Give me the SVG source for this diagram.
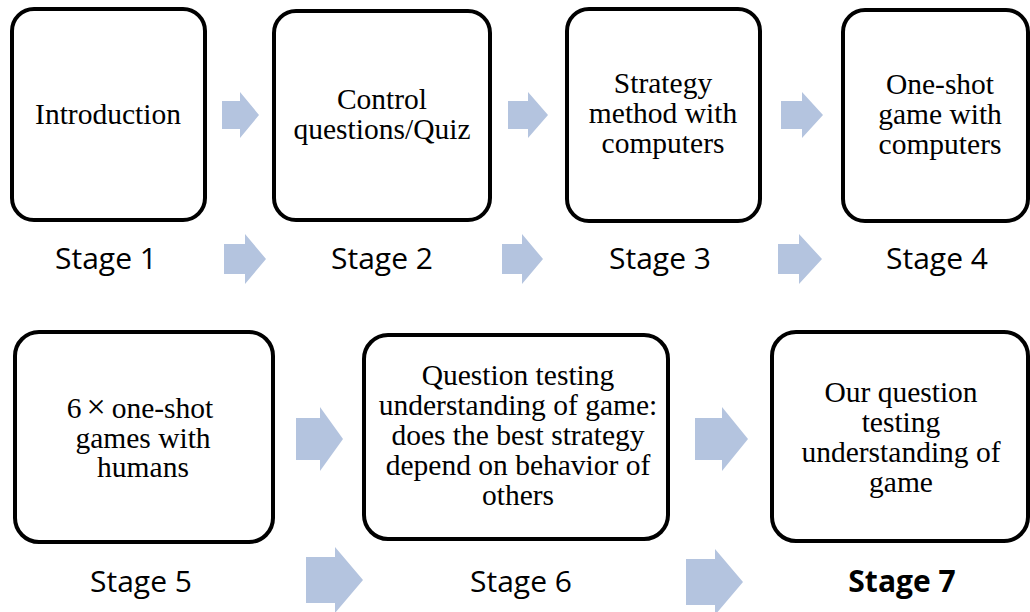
<svg xmlns="http://www.w3.org/2000/svg" width="1030" height="612" viewBox="0 0 1030 612">
<style>
.box{fill:#fff;stroke:#000;stroke-width:4}
.t{font-family:"Liberation Serif","Times New Roman",serif;font-size:29.5px;fill:#000;text-anchor:middle}
.s{font-family:"Open Sans","Liberation Sans",sans-serif;font-size:30px;fill:#000;text-anchor:middle}
.b{font-weight:bold}
.arr{fill:#B4C4DF}
</style>
<rect width="1030" height="612" fill="#fff"/>
<g id="connectors">
<polygon class="arr" points="222,101 240,101 240,92 259,115 240,138 240,129 222,129"/>
<polygon class="arr" points="224,244 245,244 245,234 266,259 245,284 245,274 224,274"/>
<polygon class="arr" points="508,101 528,101 528,92 548,115 528,138 528,129 508,129"/>
<polygon class="arr" points="502,244 522,244 522,234 543,259 522,284 522,274 502,274"/>
<polygon class="arr" points="781,101 802,101 802,92 823,115 802,138 802,129 781,129"/>
<polygon class="arr" points="778,244 799,244 799,234 822,259 799,284 799,274 778,274"/>
<polygon class="arr" points="296,418 320,418 320,407 343,439 320,471 320,460 296,460"/>
<polygon class="arr" points="306,557 335,557 335,547 363,580 335,613 335,603 306,603"/>
<polygon class="arr" points="695,418 722,418 722,407 748,439 722,471 722,460 695,460"/>
<polygon class="arr" points="686,559 715,559 715,549 743,582 715,615 715,605 686,605"/>
</g>
<g id="stage1">
<rect class="box" x="12" y="9" width="193" height="211" rx="22"/>
<text class="t" x="108" y="124">Introduction</text>
<text class="s" x="106" y="269">Stage 1</text>
</g>
<g id="stage2">
<rect class="box" x="274" y="11" width="216" height="209" rx="22"/>
<text class="t" x="382" y="109">Control</text>
<text class="t" x="382" y="139">questions/Quiz</text>
<text class="s" x="382" y="269">Stage 2</text>
</g>
<g id="stage3">
<rect class="box" x="567" y="9" width="193" height="212" rx="22"/>
<text class="t" x="663" y="93">Strategy</text>
<text class="t" x="663" y="123">method with</text>
<text class="t" x="663" y="153">computers</text>
<text class="s" x="660" y="269">Stage 3</text>
</g>
<g id="stage4">
<rect class="box" x="843" y="10" width="185" height="211" rx="22"/>
<text class="t" x="940" y="94">One-shot</text>
<text class="t" x="940" y="124">game with</text>
<text class="t" x="940" y="154">computers</text>
<text class="s" x="937" y="269">Stage 4</text>
</g>
<g id="stage5">
<rect class="box" x="15" y="332" width="258" height="210" rx="24"/>
<text class="t" x="140" y="418">6<tspan dx="5" font-size="34">×</tspan><tspan dx="6">one-shot</tspan></text>
<text class="t" x="143" y="448">games with</text>
<text class="t" x="143" y="477">humans</text>
<text class="s" x="141" y="592">Stage 5</text>
</g>
<g id="stage6">
<rect class="box" x="364" y="335" width="304" height="204" rx="24"/>
<text class="t" x="518" y="385">Question testing</text>
<text class="t" x="518" y="415">understanding of game:</text>
<text class="t" x="518" y="445">does the best strategy</text>
<text class="t" x="518" y="475">depend on behavior of</text>
<text class="t" x="518" y="505">others</text>
<text class="s" x="521" y="592">Stage 6</text>
</g>
<g id="stage7">
<rect class="box" x="772" y="332" width="256" height="209" rx="24"/>
<text class="t" x="901" y="402">Our question</text>
<text class="t" x="901" y="432">testing</text>
<text class="t" x="901" y="462">understanding of</text>
<text class="t" x="901" y="492">game</text>
<text class="s b" x="902" y="592">Stage 7</text>
</g>
</svg>
